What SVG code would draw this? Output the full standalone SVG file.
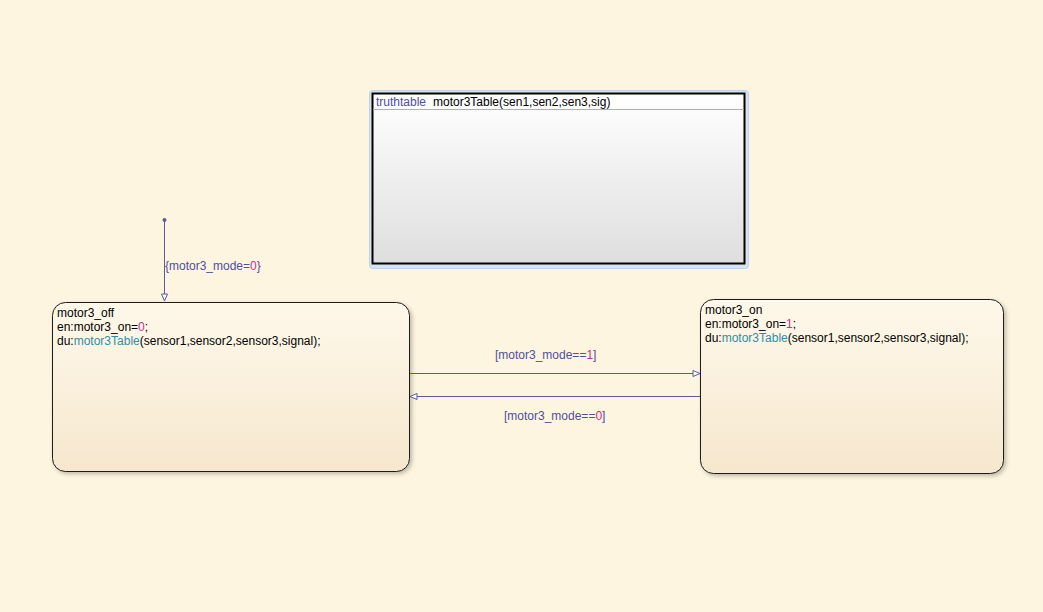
<svg xmlns="http://www.w3.org/2000/svg" width="1043" height="612" viewBox="0 0 1043 612">
<defs>
<linearGradient id="stateGrad" x1="0" y1="0" x2="0" y2="1">
<stop offset="0" stop-color="#FEF8EA"/>
<stop offset="1" stop-color="#F6E7CE"/>
</linearGradient>
<linearGradient id="ttGrad" x1="0" y1="0" x2="0" y2="1">
<stop offset="0" stop-color="#FFFFFF"/>
<stop offset="1" stop-color="#DEDEDE"/>
</linearGradient>
<filter id="shadow" x="-5%" y="-5%" width="110%" height="115%">
<feDropShadow dx="2" dy="2" stdDeviation="2" flood-color="#000" flood-opacity="0.25"/>
</filter>
<marker id="openArrow" markerWidth="10" markerHeight="8" refX="8" refY="4" orient="auto" markerUnits="userSpaceOnUse">
<path d="M1,1 L8,4 L1,7 Z" fill="#FFFFFF" stroke="#5A5AA0" stroke-width="1"/>
</marker>
</defs>
<style>
text{font-family:"Liberation Sans",Arial,sans-serif;font-size:12px;fill:#000}
.lbl{fill:#4F4F9C}
.num{fill:#C8328C}
.fn{fill:#2F8DA8}
.state{fill:url(#stateGrad);stroke:#1A1A1A;stroke-width:1;filter:url(#shadow)}
.conn{stroke:#5A5AA0;stroke-width:1;fill:none}
</style>
<rect x="0" y="0" width="1043" height="612" fill="#FEF5E0"/>

<g id="truthtable">
<rect x="369.5" y="90.5" width="379" height="178" rx="3" fill="#D4E4F4" stroke="#BCD4EE" stroke-width="1"/>
<rect x="372.5" y="93.5" width="372" height="170" fill="url(#ttGrad)" stroke="#000" stroke-width="2"/>
<line x1="373" y1="109.5" x2="744" y2="109.5" stroke="#B0B0B0" stroke-width="1"/>
<text x="376" y="106"><tspan class="lbl">truthtable</tspan><tspan x="433">motor3Table(sen1,sen2,sen3,sig)</tspan></text>
</g>

<g id="motor3_off">
<rect class="state" x="52.5" y="302.5" width="357" height="169" rx="13"/>
<text x="57" y="317">motor3_off</text>
<text x="57" y="331">en:motor3_on=<tspan class="num">0</tspan>;</text>
<text x="57" y="345">du:<tspan class="fn">motor3Table</tspan>(sensor1,sensor2,sensor3,signal);</text>
</g>

<g id="motor3_on">
<rect class="state" x="700.5" y="299.5" width="303" height="174" rx="13"/>
<text x="705" y="314">motor3_on</text>
<text x="705" y="328">en:motor3_on=<tspan class="num">1</tspan>;</text>
<text x="705" y="342">du:<tspan class="fn">motor3Table</tspan>(sensor1,sensor2,sensor3,signal);</text>
</g>

<g id="connectors">
<circle cx="164.5" cy="220" r="2" fill="#5A5AA0"/>
<line class="conn" x1="164.5" y1="220" x2="164.5" y2="301" marker-end="url(#openArrow)"/>
<text x="165" y="270" class="lbl">{motor3_mode=<tspan class="num">0</tspan>}</text>

<line class="conn" x1="410" y1="373.5" x2="700" y2="373.5" marker-end="url(#openArrow)"/>
<text x="495" y="359" class="lbl">[motor3_mode==<tspan class="num">1</tspan>]</text>

<line class="conn" x1="700" y1="396.5" x2="410" y2="396.5" marker-end="url(#openArrow)"/>
<text x="504" y="420" class="lbl">[motor3_mode==<tspan class="num">0</tspan>]</text>
</g>
</svg>
